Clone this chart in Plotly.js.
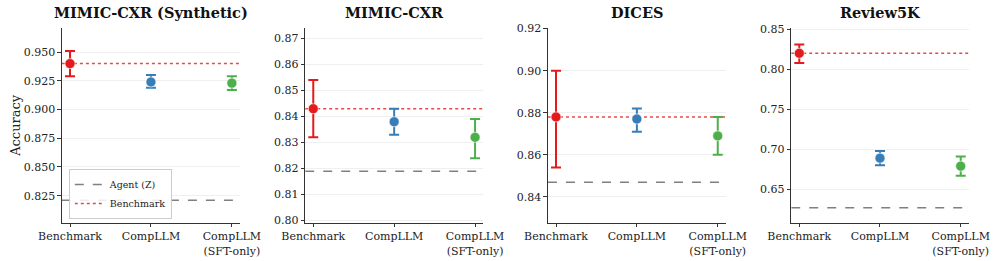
<!DOCTYPE html>
<html><head><meta charset="utf-8">
<script src="https://cdn.plot.ly/plotly-3.0.1.min.js"></script>
<style>html,body{margin:0;padding:0;background:#fff}#chart{width:997px;height:261px}</style>
</head><body><div id="chart"></div>
<script>
const categories = ["Benchmark", "CompLLM", "CompLLM<br>(SFT-only)"];
const datasets = ["MIMIC-CXR (Synthetic)", "MIMIC-CXR", "DICES", "Review5K"];
const colors = ["#e41a1c", "#377eb8", "#4daf4a"];

const accMimicSyn = [0.940, 0.924, 0.923];
const lowMimicSyn = [0.929, 0.919, 0.917];
const upMimicSyn  = [0.951, 0.930, 0.929];

const accMimic = [0.843, 0.838, 0.832];
const lowMimic = [0.832, 0.833, 0.824];
const upMimic  = [0.854, 0.843, 0.839];

const accDices = [0.878, 0.877, 0.869];
const lowDices = [0.854, 0.871, 0.860];
const upDices  = [0.900, 0.882, 0.878];

const accReview = [0.820, 0.689, 0.679];
const lowReview = [0.808, 0.680, 0.667];
const upReview  = [0.831, 0.698, 0.691];

const agentZ = [0.821, 0.819, 0.847, 0.627];
const benchmarkLine = [0.940, 0.843, 0.878, 0.820];

const yRanges = [[0.8015, 0.971], [0.7992, 0.874], [0.8277, 0.9203], [0.6083, 0.8516]];
const yTicks = [
  [0.825, 0.850, 0.875, 0.900, 0.925, 0.950],
  [0.80, 0.81, 0.82, 0.83, 0.84, 0.85, 0.86, 0.87],
  [0.84, 0.86, 0.88, 0.90, 0.92],
  [0.65, 0.70, 0.75, 0.80, 0.85]
];
const yFormats = [".3f", ".2f", ".2f", ".2f"];
const xDomains = [[0.0621, 0.2407], [0.3061, 0.4846], [0.5496, 0.7280], [0.7936, 0.9717]];
const xRange = [-0.1, 2.1];

const acc = [accMimicSyn, accMimic, accDices, accReview];
const low = [lowMimicSyn, lowMimic, lowDices, lowReview];
const up = [upMimicSyn, upMimic, upDices, upReview];

const font = "'DejaVu Serif', 'Liberation Serif', serif";
const traces = [];
const layout = {
  width: 997, height: 261,
  margin: {l: 0, r: 0, t: 0, b: 0},
  paper_bgcolor: "#fff", plot_bgcolor: "#fff",
  font: {family: font, size: 11, color: "#222"},
  showlegend: true,
  legend: {x: 0.069, y: 1 - 219 / 261, xanchor: "left", yanchor: "bottom",
    bgcolor: "rgba(255,255,255,0.85)", bordercolor: "#cccccc", borderwidth: 1,
    font: {family: font, size: 9.5, color: "#222"}, tracegroupgap: 0, itemwidth: 30},
  annotations: []
};

for (let p = 0; p < 4; p++) {
  const sfx = p === 0 ? "" : String(p + 1);
  const xa = "x" + sfx, ya = "y" + sfx;
  traces.push({x: xRange, y: [agentZ[p], agentZ[p]], xaxis: xa, yaxis: ya, mode: "lines",
    line: {color: "#808080", width: 1.5, dash: "dash"}, name: "Agent (Z)", showlegend: p === 0,
    hoverinfo: "skip"});
  traces.push({x: xRange, y: [benchmarkLine[p], benchmarkLine[p]], xaxis: xa, yaxis: ya, mode: "lines",
    line: {color: "rgba(228,26,28,0.8)", width: 1.5, dash: "dot"}, name: "Benchmark", showlegend: p === 0,
    hoverinfo: "skip"});
  for (let i = 0; i < 3; i++) {
    traces.push({
      x: [i], y: [acc[p][i]], xaxis: xa, yaxis: ya, mode: "markers", showlegend: false,
      marker: {color: colors[i], size: 10, line: {color: "rgba(255,255,255,0.6)", width: 1}},
      error_y: {type: "data", symmetric: false, array: [up[p][i] - acc[p][i]],
        arrayminus: [acc[p][i] - low[p][i]], color: colors[i], thickness: 2, width: 5}
    });
  }
  layout["xaxis" + sfx] = {
    domain: xDomains[p], anchor: ya, range: xRange, tickvals: [0, 1, 2], ticktext: categories,
    showgrid: false, zeroline: false, showline: true, linecolor: "#333", linewidth: 1,
    ticks: "outside", ticklen: 3.5, tickcolor: "#333", tickfont: {family: font, size: 11, color: "#222"}
  };
  layout["yaxis" + sfx] = {
    domain: [0.1467, 0.8927], anchor: xa, range: yRanges[p], tickvals: yTicks[p], tickformat: yFormats[p],
    showgrid: true, gridcolor: "#ebebeb", gridwidth: 0.8, zeroline: false, showline: true,
    linecolor: "#333", linewidth: 1, ticks: "outside", ticklen: 3.5, tickcolor: "#333",
    tickfont: {family: font, size: 11, color: "#222"}
  };
  if (p === 0) layout["yaxis"].title = {text: "Accuracy", font: {family: font, size: 13, color: "#222"}, standoff: 0};
  layout.annotations.push({
    text: "<b>" + datasets[p] + "</b>", xref: "paper", yref: "paper",
    x: (xDomains[p][0] + xDomains[p][1]) / 2, y: 1 - 13 / 261, xanchor: "center", yanchor: "middle",
    showarrow: false, font: {family: font, size: 14.5, color: "#111"}
  });
}

Plotly.newPlot("chart", traces, layout, {displayModeBar: false, staticPlot: true});
</script></body></html>
